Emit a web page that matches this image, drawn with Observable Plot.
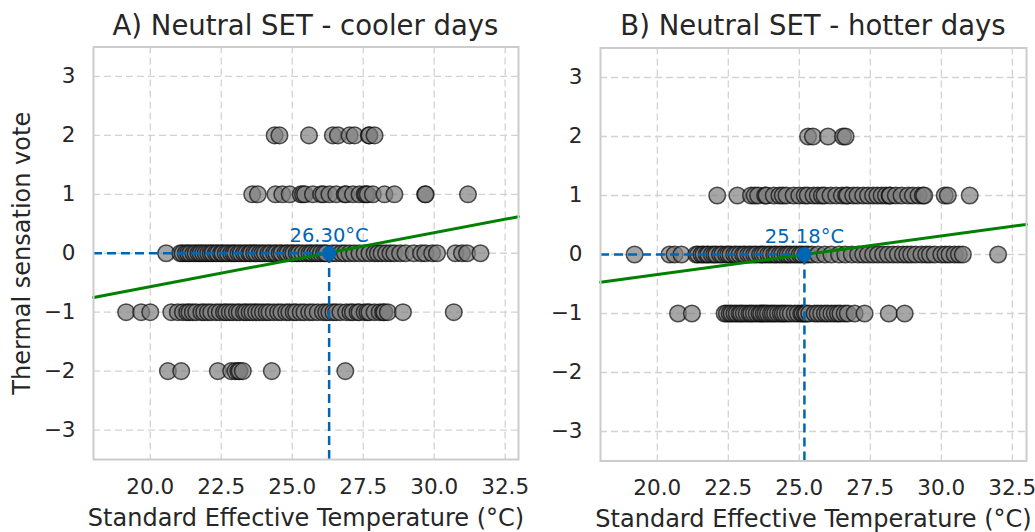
<!DOCTYPE html>
<html>
<head>
<meta charset="utf-8">
<script src="https://cdn.jsdelivr.net/npm/d3@7"></script>
<script src="https://cdn.jsdelivr.net/npm/@observablehq/plot@0.6"></script>
<style>
  html, body { margin: 0; padding: 0; background: #ffffff; }
  #wrap { position: relative; width: 1035px; height: 532px; background: #ffffff; font-family: "DejaVu Sans", sans-serif; color: #262626; }
  .panel { position: absolute; top: 0; }
  .title { height: 40px; line-height: 51px; font-size: 27.5px; text-align: center; white-space: nowrap; box-sizing: border-box; overflow: visible; }
  svg { display: block; overflow: visible; }
</style>
</head>
<body>
<div id="wrap">
  <div class="panel" id="pb" style="left:522px;width:513px"></div>
  <div class="panel" id="pa" style="left:0px;width:522px"></div>
</div>
<script>
// ---------- data ----------
const titles = ["A) Neutral SET - cooler days", "B) Neutral SET - hotter days"];
const xLabel = "Standard Effective Temperature (°C)";
const yLabel = "Thermal sensation vote";
const xTicks = [20.0, 22.5, 25.0, 27.5, 30.0, 32.5];
const yTicks = [-3, -2, -1, 0, 1, 2, 3];

// Panel A (cooler days): SET values for each thermal sensation vote
const coolVote2 = [24.38, 24.55, 25.59, 26.43, 26.61, 27.02, 27.2, 27.7, 27.72, 27.9];
const coolVote1 = [23.59, 23.79, 24.41, 24.65, 24.91, 25.3, 25.38, 25.45, 25.73, 26.02, 26.1, 26.31,
  26.55, 26.85, 26.9, 27.14, 27.37, 27.55, 27.6, 27.66, 27.84, 28.25, 28.6, 29.68, 29.7, 31.19];
const coolVote0 = [20.56, 21.06, 21.14, 21.25, 21.33, 21.41, 21.52, 21.6, 21.7, 21.77, 21.86, 21.95,
  22.04, 22.13, 22.2, 22.31, 22.38, 22.49, 22.55, 22.66, 22.74, 22.85, 22.93, 23.0, 23.11, 23.19,
  23.3, 23.38, 23.49, 23.55, 23.66, 23.74, 23.86, 23.95, 24.04, 24.16, 24.24, 24.36, 24.44, 24.56,
  24.63, 24.76, 24.84, 24.96, 25.04, 25.16, 25.24, 25.36, 25.5, 25.61, 25.69, 25.81, 25.9, 26.01,
  26.12, 26.2, 26.41, 26.55, 26.73, 26.86, 27.02, 27.19, 27.37, 27.55, 27.72, 27.9, 28.02, 28.15,
  28.31, 28.46, 28.6, 28.8, 28.99, 29.28, 29.54, 29.69, 29.93, 30.1, 30.75, 30.98, 31.16, 31.63];
const coolVoteM1 = [19.15, 19.68, 20.0, 20.74, 20.97, 21.15, 21.3, 21.38, 21.5, 21.62, 21.8, 21.9,
  22.03, 22.15, 22.32, 22.45, 22.6, 22.68, 22.8, 22.91, 23.05, 23.15, 23.3, 23.38, 23.5, 23.6,
  23.73, 23.85, 23.97, 24.1, 24.2, 24.35, 24.5, 24.62, 24.79, 24.9, 25.05, 25.14, 25.3, 25.43,
  25.6, 25.73, 25.9, 26.08, 26.2, 26.31, 26.45, 26.55, 26.7, 26.9, 27.05, 27.14, 27.3, 27.37,
  27.55, 27.65, 27.72, 27.9, 28.08, 28.2, 28.25, 28.37, 28.9, 30.69];
const coolVoteM2 = [20.62, 21.09, 22.38, 22.85, 23.0, 23.1, 23.15, 23.26, 24.28, 26.87];

// Panel B (hotter days)
const hotVote2 = [25.31, 25.48, 26.01, 26.54, 26.63];
const hotVote1 = [22.11, 22.82, 23.3, 23.43, 23.55, 23.8, 23.85, 24.1, 24.3, 24.42, 24.55, 24.8,
  25.0, 25.19, 25.3, 25.5, 25.65, 25.8, 25.89, 26.1, 26.3, 26.5, 26.65, 26.7, 26.9, 27.05, 27.25,
  27.42, 27.6, 27.75, 27.9, 28.05, 28.18, 28.2, 28.4, 28.6, 28.83, 29.0, 29.2, 29.35, 29.4, 30.12,
  30.23, 31.0];
const hotVote0 = [19.2, 20.43, 20.61, 20.85, 21.37, 21.44, 21.56, 21.63, 21.74, 21.8, 21.92, 22.01,
  22.08, 22.21, 22.29, 22.42, 22.5, 22.58, 22.71, 22.79, 22.9, 23.02, 23.09, 23.21, 23.3, 23.41,
  23.49, 23.62, 23.7, 23.79, 23.91, 24.0, 24.12, 24.19, 24.31, 24.4, 24.52, 24.6, 24.69, 24.81,
  24.9, 25.02, 25.1, 25.22, 25.31, 25.45, 25.66, 25.9, 26.13, 26.4, 26.62, 26.85, 27.07, 27.25,
  27.42, 27.6, 27.77, 27.95, 28.12, 28.3, 28.47, 28.65, 28.8, 28.94, 29.1, 29.3, 29.47, 29.6,
  29.77, 30.0, 30.15, 30.29, 30.47, 30.62, 30.76, 32.0];
const hotVoteM1 = [20.73, 21.22, 22.37, 22.45, 22.55, 22.62, 22.72, 22.8, 22.9, 22.96, 23.05, 23.15,
  23.25, 23.31, 23.4, 23.5, 23.6, 23.66, 23.75, 23.82, 23.9, 24.0, 24.07, 24.15, 24.25, 24.35,
  24.42, 24.5, 24.6, 24.7, 24.84, 24.95, 25.07, 25.12, 25.2, 25.25, 25.35, 25.54, 25.65, 25.77,
  25.9, 26.0, 26.13, 26.25, 26.36, 26.45, 26.6, 26.71, 26.95, 27.3, 28.15, 28.71];

// neutral temperatures and fitted regression line endpoints
const neutralTemps = [26.30, 25.18];
const neutralLabels = ["26.30°C", "25.18°C"];
const fitCool = [{x: 18.0, y: -0.75}, {x: 32.97, y: 0.62}];
const fitHot = [{x: 18.0, y: -0.47}, {x: 33.0, y: 0.51}];
const xDomains = [[18.0, 32.97], [18.0, 33.0]];
const yDomain = [-3.5, 3.5];

// ---------- build tables ----------
function rows(levels) {
  const out = [];
  for (const [vote, xs] of levels) for (const x of xs) out.push({set: x, vote});
  return out;
}
const coolPoints = rows([[2, coolVote2], [1, coolVote1], [0, coolVote0], [-1, coolVoteM1], [-2, coolVoteM2]]);
const hotPoints = rows([[2, hotVote2], [1, hotVote1], [0, hotVote0], [-1, hotVoteM1]]);

const BLUE = "#0066b2";
const GRID = "#d3d3d3";
const TICK_FS = 21.5;
const LAB_FS = 24;
const fmtY = d => d < 0 ? "\u2212" + Math.abs(d) : String(d);
const fmtX = d => d.toFixed(1);

function panel(cfg) {
  const xmin = cfg.xDomain[0];
  return Plot.plot({
    width: cfg.width,
    height: 492,
    marginLeft: cfg.ml,
    marginRight: cfg.mr,
    marginTop: cfg.mt,
    marginBottom: cfg.mb,
    x: {domain: cfg.xDomain},
    y: {domain: yDomain},
    style: {fontFamily: "DejaVu Sans", fontSize: TICK_FS + "px", color: "#262626", background: cfg.bg, overflow: "visible"},
    marks: [
      Plot.gridX(xTicks, {stroke: GRID, strokeOpacity: 1, strokeWidth: 1.3, strokeDasharray: "7,4"}),
      Plot.gridY(yTicks, {stroke: GRID, strokeOpacity: 1, strokeWidth: 1.3, strokeDasharray: "7,4"}),
      Plot.axisX(xTicks, {tickSize: 0, tickPadding: 19, tickFormat: fmtX, label: null, fontSize: TICK_FS}),
      Plot.axisY(yTicks, {tickSize: 0, tickPadding: 18, tickFormat: fmtY, label: null, fontSize: TICK_FS}),
      Plot.dot(cfg.points, {x: "set", y: "vote", r: 8.3, fill: "#808080", fillOpacity: 0.7,
        stroke: "#000000", strokeOpacity: 0.65, strokeWidth: 1.5}),
      Plot.line(cfg.fit, {x: "x", y: "y", stroke: "#008000", strokeWidth: 3}),
      Plot.ruleY([{y: 0, x1: xmin, x2: cfg.neutral}], {y: "y", x1: "x1", x2: "x2", stroke: BLUE,
        strokeWidth: 2.5, strokeDasharray: "9,5"}),
      Plot.ruleX([{x: cfg.neutral, y1: yDomain[0], y2: 0}], {x: "x", y1: "y1", y2: "y2", stroke: BLUE,
        strokeWidth: 2.5, strokeDasharray: "9,5"}),
      Plot.dot([{x: cfg.neutral, y: 0}], {x: "x", y: "y", r: 6.5, fill: BLUE, stroke: BLUE}),
      Plot.text([{x: cfg.neutral, y: 0, t: cfg.label}], {x: "x", y: "y", text: "t", dy: -11.6,
        lineAnchor: "bottom", textAnchor: "middle", fill: BLUE, fontSize: 19.5}),
      Plot.frame({stroke: "#cccccc", strokeWidth: 2}),
      Plot.text([xLabel], {frameAnchor: "bottom", dy: cfg.xlabDy, lineAnchor: "bottom",
        textAnchor: "middle", fontSize: LAB_FS, fill: "#262626"}),
      ...(cfg.showY ? [Plot.text([yLabel], {frameAnchor: "left", rotate: -90, dx: -81,
        lineAnchor: "top", textAnchor: "middle", fontSize: LAB_FS, fill: "#262626"})] : [])
    ]
  });
}

function mount(id, title, cfg) {
  const host = document.getElementById(id);
  const t = document.createElement("div");
  t.className = "title";
  t.style.paddingLeft = cfg.ml + "px";
  t.style.paddingRight = cfg.mr + "px";
  t.textContent = title;
  host.appendChild(t);
  host.appendChild(panel(cfg));
}

mount("pa", titles[0], {width: 522, ml: 93, mr: 4, mt: 6.5, mb: 73, xDomain: xDomains[0], bg: "transparent",
  points: coolPoints, fit: fitCool, neutral: neutralTemps[0], label: neutralLabels[0], xlabDy: 66.5, showY: true});
mount("pb", titles[1], {width: 513, ml: 78, mr: 9, mt: 7.5, mb: 71.5, xDomain: xDomains[1], bg: "transparent",
  points: hotPoints, fit: fitHot, neutral: neutralTemps[1], label: neutralLabels[1], xlabDy: 65.5, showY: false});
</script>
</body>
</html>
